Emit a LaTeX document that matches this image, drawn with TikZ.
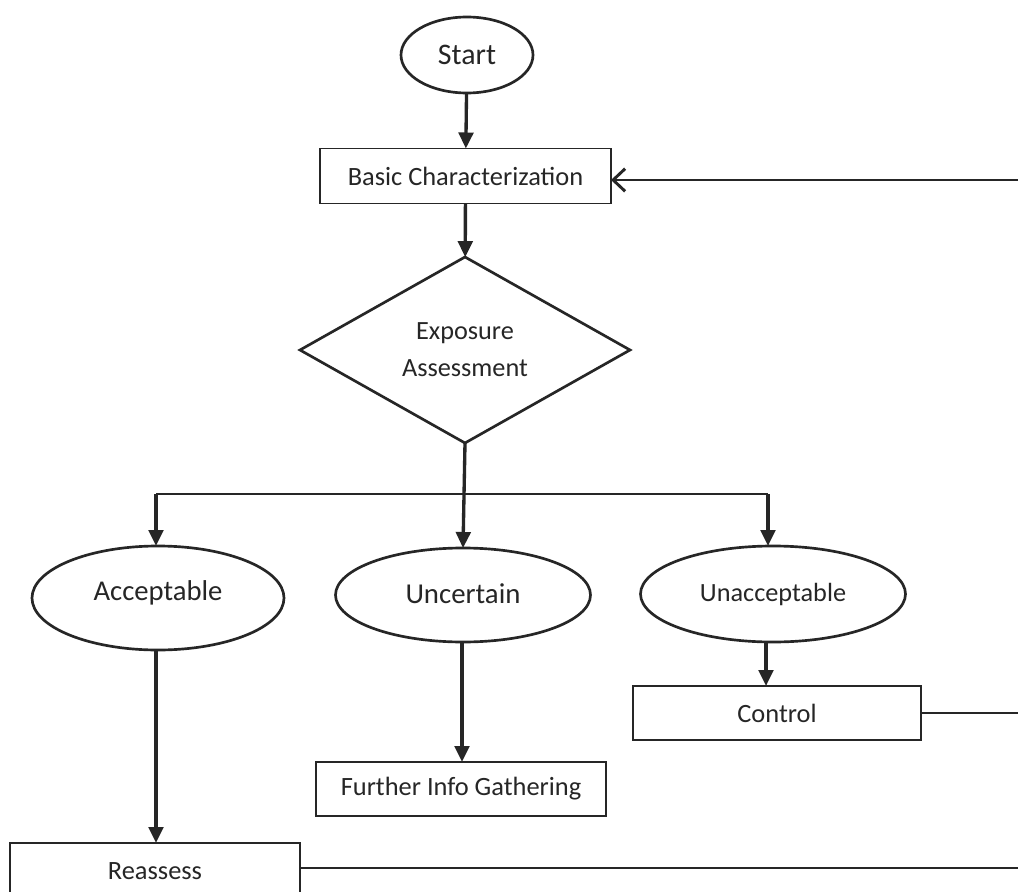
\documentclass[tikz,border=0pt]{standalone}
\usepackage{fontspec}
\setmainfont{Carlito}
\usetikzlibrary{shapes.geometric,arrows.meta}
\begin{document}
\begin{tikzpicture}[x=0.75pt,y=-0.75pt,
  every node/.style={draw=black!85, line width=1.3pt, text=black!85, inner sep=0pt, outer sep=0pt},
  stepbox/.style={rectangle, minimum width=291*0.75pt, minimum height=55*0.75pt, font=\fontsize{19.8}{22}\selectfont},
  oval/.style={ellipse, line width=2pt},
  flow/.style={draw=black!85, line width=2.5pt, -{Triangle[length=12pt,width=11pt]}},
  link/.style={draw=black!85, line width=1.5pt}]
\useasboundingbox (0,0) rectangle (1018,892);
\fill[white] (0,0) rectangle (1018,892);

\node[oval, minimum width=132*0.75pt, minimum height=76*0.75pt, font=\fontsize{22.4}{24}\selectfont] (start) at (467,55) {Start};
\node[stepbox] (basic) at (465.5,176) {\raisebox{-2pt}{Basic Characterization}};
\node[diamond, line width=2pt, minimum width=330*0.75pt, minimum height=186*0.75pt, aspect=1.77, align=center, font=\fontsize{19.7}{28}\selectfont] (expo) at (465,350) {Exposure\\Assessment};

\node[oval, minimum width=252*0.75pt, minimum height=104*0.75pt, font=\fontsize{21.5}{24}\selectfont] (acc) at (158,598) {\raisebox{11pt}{Acceptable}};
\node[oval, minimum width=255*0.75pt, minimum height=94*0.75pt, font=\fontsize{21.6}{24}\selectfont] (unc) at (463,595) {\raisebox{2pt}{Uncertain}};
\node[oval, minimum width=265*0.75pt, minimum height=96*0.75pt, font=\fontsize{19.7}{22}\selectfont] (unac) at (773,594) {Unacceptable};

\node[stepbox, minimum width=288*0.75pt, minimum height=54*0.75pt] (control) at (777,713) {Control};
\node[stepbox, minimum width=290*0.75pt, minimum height=54*0.75pt] (further) at (461,789) {\raisebox{-1pt}{Further Info Gathering}};
\node[stepbox, minimum width=290*0.75pt, minimum height=56*0.75pt] (reassess) at (155,871) {Reassess};

\coordinate (jl) at (156,494);
\coordinate (jr) at (768,494);
\coordinate (eTop) at (1018,180);
\coordinate (eCtl) at (1018,713);
\coordinate (eRea) at (1018,868);

\draw[flow] (start) -- (basic);
\draw[flow] (basic) -- (expo);
\draw[flow] (expo.south) -- (unc.north);
\draw[link, line width=2.2pt] (jl) -- (jr);
\draw[flow] (jl) -- (jl |- acc.north);
\draw[flow] (jr) -- (jr |- unac.north);
\draw[flow] (unac.south -| 766,0) -- (766,0 |- control.north);
\draw[flow] (unc.south -| 462,0) -- (462,0 |- further.north);
\draw[flow] (acc.south -| 156,0) -- (156,0 |- reassess.north);
\draw[link] (control.east) -- (eCtl);
\draw[link] (reassess.east |- eRea) -- (eRea);
\draw[draw=black!85, line width=2.2pt, -{Straight Barb[length=9pt,width=17pt]}] (eTop) -- (basic.east |- eTop);
\end{tikzpicture}
\end{document}
